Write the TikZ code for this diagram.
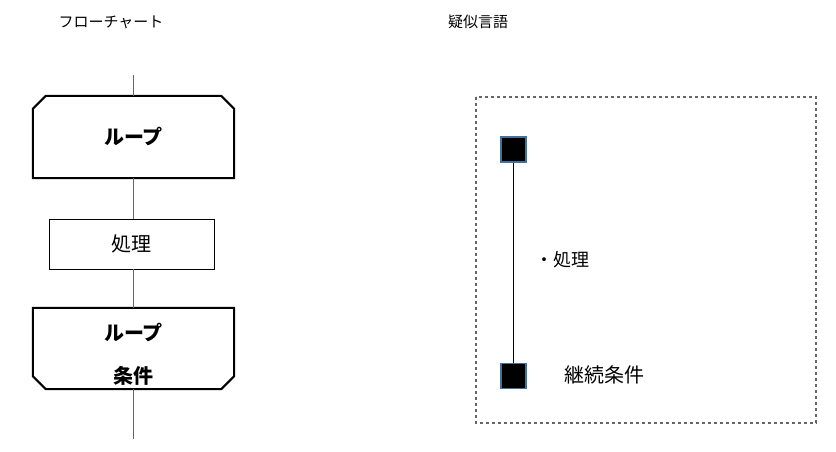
\documentclass[tikz,border=0pt]{standalone}
\usepackage{fontspec}
\setmainfont{Noto Sans CJK JP}
\definecolor{sqedge}{RGB}{65,113,156}

\tikzset{
  flow/.style={draw=gray!80!black, line width=1pt},
  looptop/.style={minimum width=201pt, minimum height=82pt, inner sep=0pt},
  procbox/.style={draw, line width=0.8pt, minimum width=165pt, minimum height=50pt, font=\fontsize{20}{24}\selectfont},
  marker/.style={draw=sqedge, fill=black, line width=1.5pt, minimum size=25pt, inner sep=0pt},
}

\begin{document}
\begin{tikzpicture}[x=1pt,y=-1pt]
  \useasboundingbox (0,0) rectangle (836,451);
  \node[font=\fontsize{15}{18}\selectfont] (ttlflow) at (111,22) {フローチャート};
  \node[font=\fontsize{15}{18}\selectfont] (ttlcode) at (478,22) {疑似言語};

  % flowchart
  \coordinate (in) at (133.5,75);
  \node[looptop] (start) at (133.5,137) {};
  \draw[line width=2pt] (start.south west) -- ([yshift=-13pt]start.north west) -- ([xshift=13pt]start.north west)
    -- ([xshift=-13pt]start.north east) -- ([yshift=-13pt]start.north east) -- (start.south east) -- cycle;
  \node[font=\bfseries\fontsize{20}{24}\selectfont] at (start) {ループ};

  \node[procbox] (proc) at (131.5,244) {処理};

  \node[looptop, minimum height=81pt] (end) at (133.5,348.5) {};
  \draw[line width=2pt] (end.north west) -- ([yshift=13pt]end.south west) -- ([xshift=13pt]end.south west)
    -- ([xshift=-13pt]end.south east) -- ([yshift=13pt]end.south east) -- (end.north east) -- cycle;
  \node[font=\bfseries\fontsize{20}{24}\selectfont] (endtxt) at (133.5,333) {ループ};
  \node[font=\bfseries\fontsize{20}{24}\selectfont] (endcond) at (133.5,376) {条件};
  \coordinate (out) at (133.5,439);

  \draw[flow] (in) -- (start.north);
  \draw[flow] (start.south) -- (start.south |- proc.north);
  \draw[flow] (start.south |- proc.south) -- (end.north);
  \draw[flow] (end.south) -- (out);

  % pseudo code
  \draw[dashed, gray!80!black, line width=1.3pt] (476,97) rectangle (816,423);
  \node[marker] (mtop) at (513.5,149.5) {};
  \node[marker] (mbot) at (513.5,376) {};
  \draw[line width=0.9pt] (mtop.south) -- (mbot.north);
  \node[font=\fontsize{18}{22}\selectfont] (body) at (562,260) {・処理};
  \node[font=\fontsize{20}{24}\selectfont] (cond) at (604,375) {継続条件};
\end{tikzpicture}
\end{document}
